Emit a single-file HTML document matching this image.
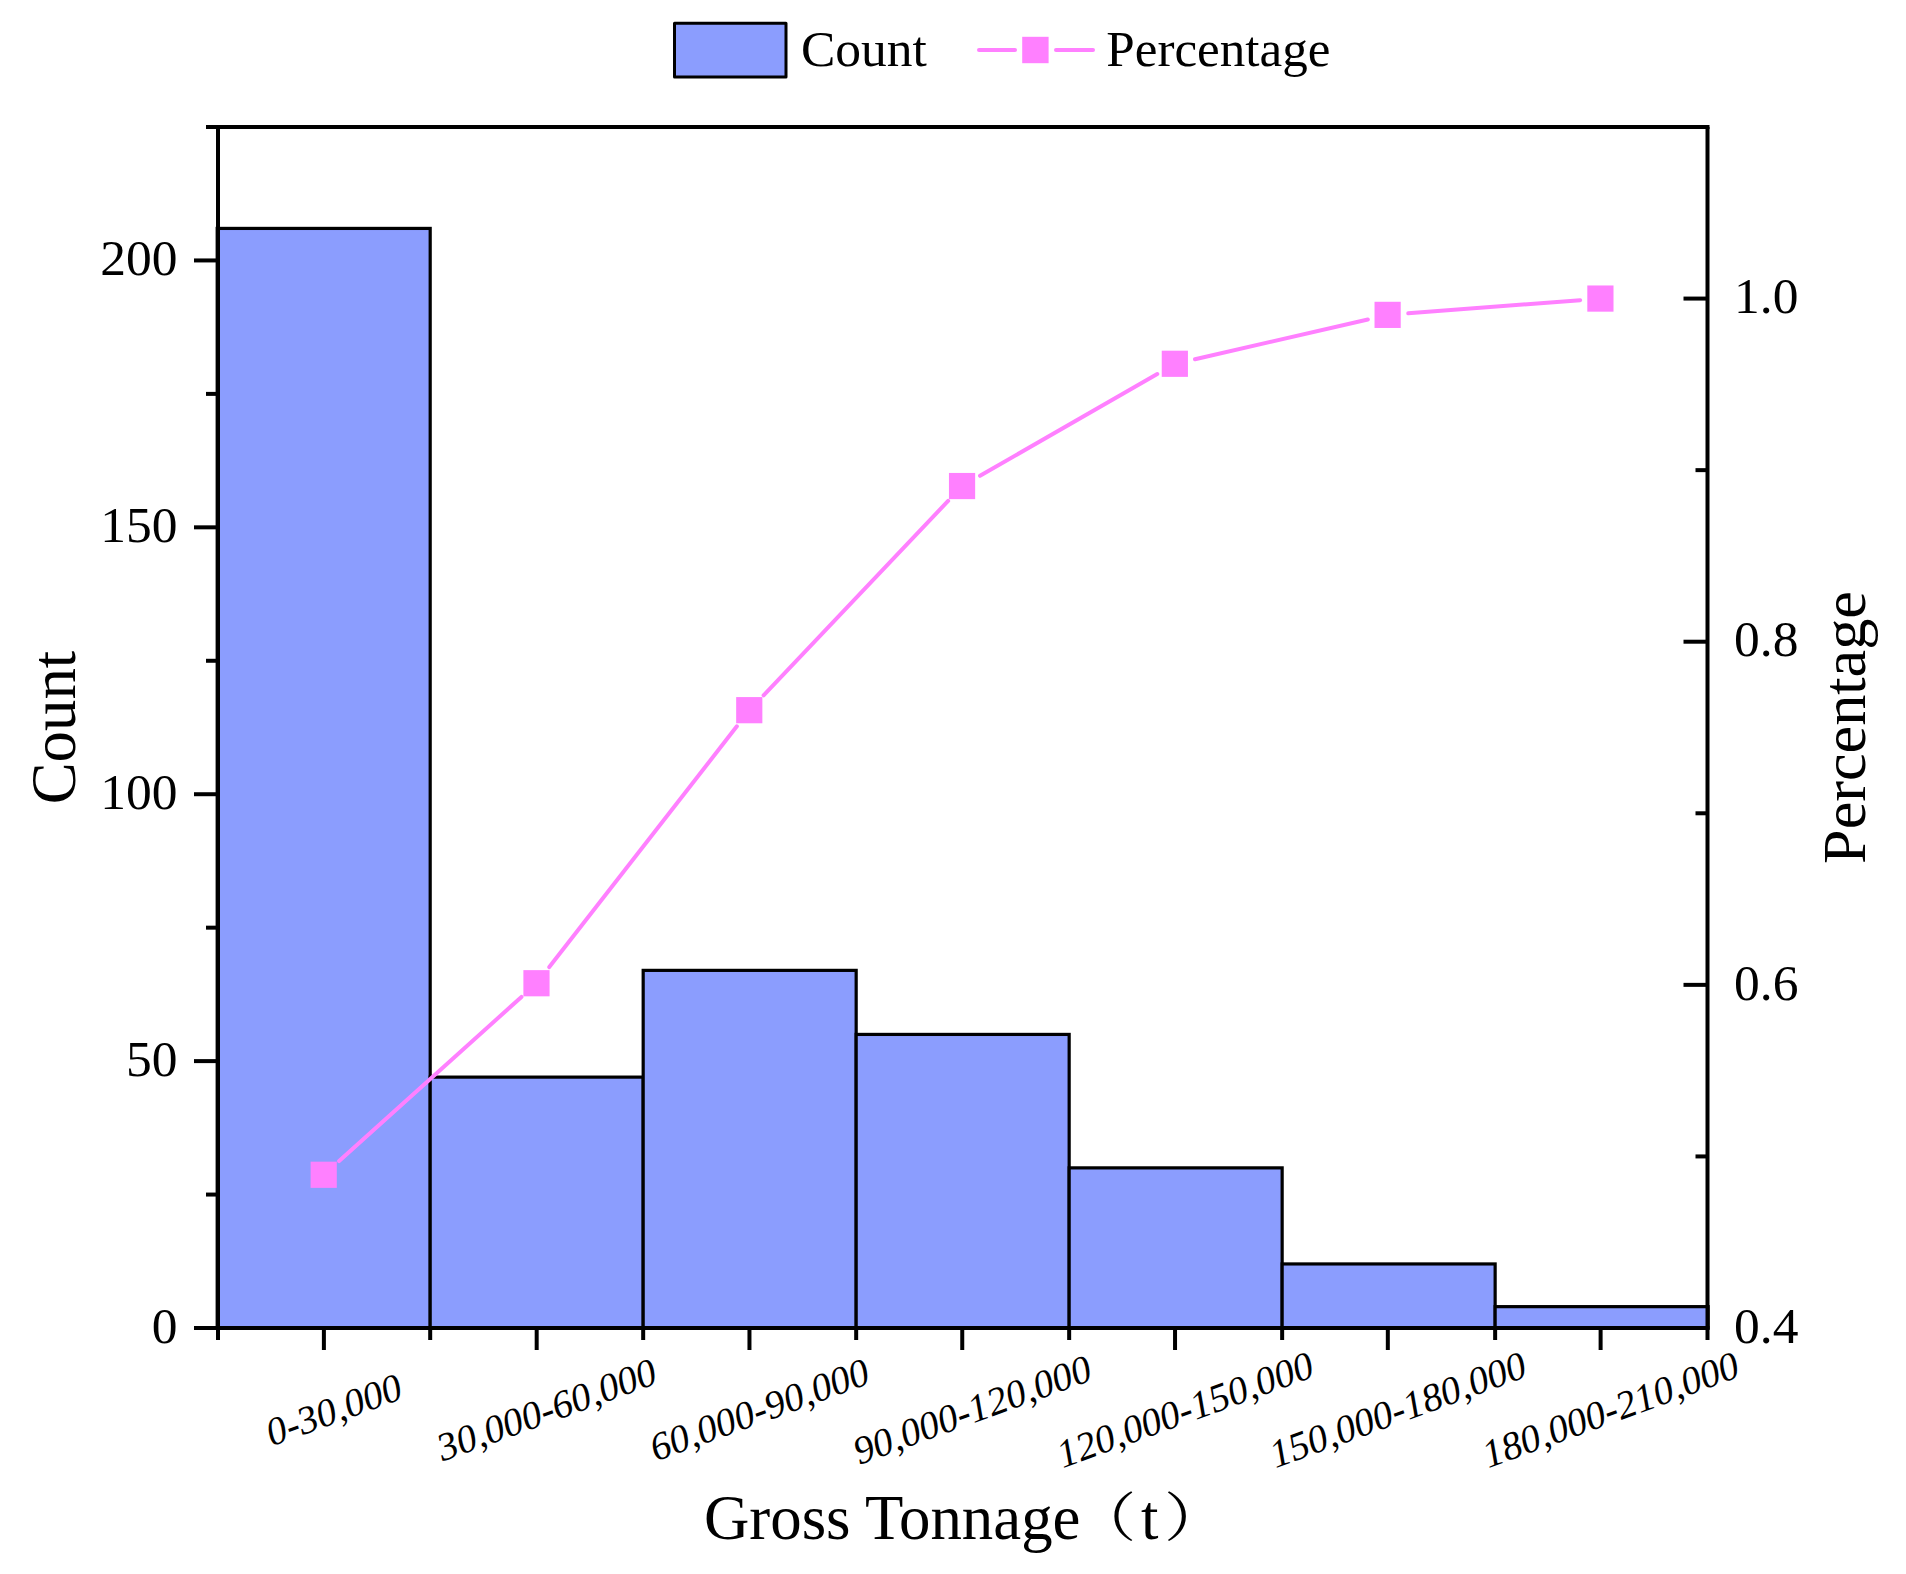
<!DOCTYPE html>
<html lang="en"><head><meta charset="utf-8"><title>Gross Tonnage distribution</title>
<style>html,body{margin:0;padding:0;background:#fff}svg{display:block}text{font-family:"Liberation Serif","Noto Serif CJK SC",serif;fill:#000}.tk{font-size:51.5px}.xl{font-size:39.5px;font-style:italic}.ti{font-size:62.8px}.lg{font-size:51.5px}</style></head><body>
<svg width="1906" height="1574" viewBox="0 0 1906 1574">
<rect width="1906" height="1574" fill="#fff"/>
<g fill="#8B9DFE" stroke="#000" stroke-width="3.2" stroke-linejoin="miter">
<rect x="217.20" y="228.42" width="212.99" height="1099.58"/>
<rect x="430.19" y="1077.12" width="212.99" height="250.88"/>
<rect x="643.18" y="970.37" width="212.99" height="357.63"/>
<rect x="856.17" y="1034.42" width="212.99" height="293.58"/>
<rect x="1069.16" y="1167.87" width="212.99" height="160.13"/>
<rect x="1282.15" y="1263.95" width="212.99" height="64.05"/>
<rect x="1495.14" y="1306.65" width="212.99" height="21.35"/>
</g>
<g stroke="#FF80FF" stroke-width="4" stroke-linecap="round">
<line x1="339.13" y1="1161.05" x2="521.44" y2="996.94"/>
<line x1="549.28" y1="967.06" x2="736.86" y2="726.35"/>
<line x1="763.58" y1="695.31" x2="948.14" y2="500.90"/>
<line x1="980.02" y1="475.82" x2="1157.26" y2="373.99"/>
<line x1="1195.01" y1="359.18" x2="1367.84" y2="319.46"/>
<line x1="1408.26" y1="313.31" x2="1580.17" y2="300.14"/>
</g>
<g fill="#FF80FF">
<rect x="310.59" y="1161.67" width="26.2" height="26.2"/>
<rect x="523.38" y="970.13" width="26.2" height="26.2"/>
<rect x="736.16" y="697.08" width="26.2" height="26.2"/>
<rect x="948.95" y="472.94" width="26.2" height="26.2"/>
<rect x="1161.74" y="350.68" width="26.2" height="26.2"/>
<rect x="1374.52" y="301.77" width="26.2" height="26.2"/>
<rect x="1587.31" y="285.47" width="26.2" height="26.2"/>
</g>
<g stroke="#000" stroke-width="4" fill="none" stroke-linecap="butt">
<path d="M206.0 127.0H1709.5"/>
<path d="M194.0 1328.0H1709.5"/>
<path d="M218.0 127.0V1340.0"/>
<path d="M1707.5 127.0V1340.0"/>
<path d="M194.0 1061.11H218.0"/>
<path d="M194.0 794.22H218.0"/>
<path d="M194.0 527.33H218.0"/>
<path d="M194.0 260.44H218.0"/>
<path d="M206.0 1194.56H218.0"/>
<path d="M206.0 927.67H218.0"/>
<path d="M206.0 660.78H218.0"/>
<path d="M206.0 393.89H218.0"/>
<path d="M1683.5 984.86H1707.5"/>
<path d="M1683.5 641.71H1707.5"/>
<path d="M1683.5 298.57H1707.5"/>
<path d="M1695.5 1156.43H1707.5"/>
<path d="M1695.5 813.29H1707.5"/>
<path d="M1695.5 470.14H1707.5"/>
<path d="M323.89 1328.0V1350.0"/>
<path d="M536.68 1328.0V1350.0"/>
<path d="M749.46 1328.0V1350.0"/>
<path d="M962.25 1328.0V1350.0"/>
<path d="M1175.04 1328.0V1350.0"/>
<path d="M1387.82 1328.0V1350.0"/>
<path d="M1600.61 1328.0V1350.0"/>
<path d="M430.19 1328.0V1340.0"/>
<path d="M643.18 1328.0V1340.0"/>
<path d="M856.17 1328.0V1340.0"/>
<path d="M1069.16 1328.0V1340.0"/>
<path d="M1282.15 1328.0V1340.0"/>
<path d="M1495.14 1328.0V1340.0"/>
</g>
<g class="tk" text-anchor="end">
<text x="177.5" y="1342.70">0</text>
<text x="177.5" y="1075.81">50</text>
<text x="177.5" y="808.92">100</text>
<text x="177.5" y="542.03">150</text>
<text x="177.5" y="275.14">200</text>
</g>
<g class="tk" text-anchor="start">
<text x="1734" y="1342.70">0.4</text>
<text x="1734" y="999.56">0.6</text>
<text x="1734" y="656.41">0.8</text>
<text x="1734" y="313.27">1.0</text>
</g>
<g class="xl" text-anchor="middle">
<text transform="translate(333.89 1410) rotate(-20)" x="0" y="13">0-30,000</text>
<text transform="translate(546.68 1410) rotate(-20)" x="0" y="13">30,000-60,000</text>
<text transform="translate(759.46 1410) rotate(-20)" x="0" y="13">60,000-90,000</text>
<text transform="translate(972.25 1410) rotate(-20)" x="0" y="13">90,000-120,000</text>
<text transform="translate(1185.04 1410) rotate(-20)" x="0" y="13">120,000-150,000</text>
<text transform="translate(1397.82 1410) rotate(-20)" x="0" y="13">150,000-180,000</text>
<text transform="translate(1610.61 1410) rotate(-20)" x="0" y="13">180,000-210,000</text>
</g>
<text class="ti" text-anchor="middle" transform="translate(74.7 727.5) rotate(-90)">Count</text>
<text class="ti" style="font-size:62.2px" text-anchor="middle" transform="translate(1864.8 727.5) rotate(-90)">Percentage</text>
<text class="ti" x="704" y="1539">Gross Tonnage</text>
<text class="ti" transform="translate(1073.6 1536.8) scale(1 0.845)">（</text>
<text class="ti" x="1141" y="1539">t</text>
<text class="ti" transform="translate(1164 1536.8) scale(1 0.845)">）</text>
<rect x="674.5" y="23.3" width="111.5" height="53.7" fill="#8B9DFE" stroke="#000" stroke-width="3" stroke-linejoin="round"/>
<text class="lg" x="801" y="66.3">Count</text>
<g stroke="#FF80FF" stroke-width="4" stroke-linecap="round"><line x1="979" y1="50" x2="1015" y2="50"/><line x1="1056" y1="50" x2="1093" y2="50"/></g>
<rect x="1022.2" y="36.8" width="26.4" height="26.4" fill="#FF80FF"/>
<text class="lg" style="font-size:51.1px" x="1106.3" y="66.3">Percentage</text>
</svg></body></html>
